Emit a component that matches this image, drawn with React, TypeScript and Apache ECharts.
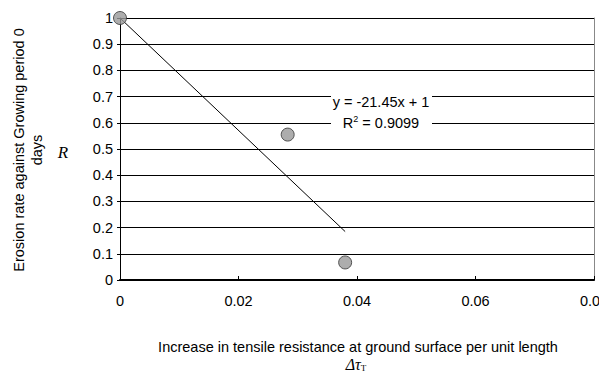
import React, { useEffect, useRef } from "react";
import * as echarts from "echarts";

const xValues = [0, 0.0283, 0.038];
const yValues = [1, 0.555, 0.067];
const slope = -21.45;
const intercept = 1;
const r2 = 0.9099;
const trendX = [0, 0.038];

export default function App() {
  const ref = useRef<HTMLDivElement>(null);
  useEffect(() => {
    const chart = echarts.init(ref.current!, null, { renderer: "svg" });
    const font = "'Liberation Sans', Arial, sans-serif";
    const serif = "'Liberation Serif', 'Times New Roman', serif";
    const fs = 14.5;
    chart.setOption({
      animation: false,
      backgroundColor: "#fff",
      grid: {
        left: 120,
        width: 474,
        top: 18,
        height: 262,
        containLabel: false,
        outerBoundsMode: "none",
        show: false,
      },
      xAxis: {
        type: "value",
        min: 0,
        max: 0.08,
        interval: 0.02,
        axisLine: { show: true, onZero: false, lineStyle: { color: "#000", width: 2 } },
        axisTick: { show: true, inside: true, length: 4, lineStyle: { color: "#000" } },
        axisLabel: { color: "#000", fontFamily: font, fontSize: fs, margin: 13, hideOverlap: false },
        splitLine: { show: false },
      },
      yAxis: [
        {
          type: "value",
          min: 0,
          max: 1,
          interval: 0.1,
          axisLine: { show: true, lineStyle: { color: "#000", width: 1 } },
          axisTick: { show: true, length: 3, lineStyle: { color: "#000" } },
          axisLabel: {
            color: "#000",
            fontFamily: font,
            fontSize: fs,
            margin: 7,
            formatter: (v: number) => String(Math.round(v * 10) / 10),
          },
          splitLine: { show: true, lineStyle: { color: "#000", width: 1 } },
        },
        {
          type: "value",
          position: "right",
          min: 0,
          max: 1,
          interval: 0.1,
          axisLine: { show: true, lineStyle: { color: "#888", width: 1 } },
          axisTick: { show: false },
          axisLabel: { show: false },
          splitLine: { show: false },
        },
      ],
      series: [
        {
          type: "line",
          data: trendX.map((x) => [x, slope * x + intercept]),
          symbol: "none",
          lineStyle: { color: "#000", width: 1 },
          z: 3,
        },
        {
          type: "scatter",
          data: xValues.map((x, i) => [x, yValues[i]]),
          symbol: "circle",
          symbolSize: 13,
          itemStyle: { color: "#999999", borderColor: "#333", borderWidth: 1 },
          z: 5,
        },
      ],
      graphic: [
        {
          type: "rect",
          shape: { x: 331, y: 90, width: 101, height: 44 },
          style: { fill: "#fff" },
          z: 10,
        },
        {
          type: "text",
          x: 381,
          y: 102,
          z: 11,
          style: {
            text: `y = ${slope}x + ${intercept}`,
            fontFamily: font,
            fontSize: fs,
            fill: "#000",
            align: "center",
            verticalAlign: "middle",
          },
        },
        {
          type: "text",
          x: 381,
          y: 123,
          z: 11,
          style: {
            text: `{n|R}{s|2}{n| = ${r2}}`,
            fontFamily: font,
            fontSize: fs,
            fill: "#000",
            align: "center",
            verticalAlign: "middle",
            rich: {
              n: { fontFamily: font, fontSize: fs, fill: "#000" },
              s: { fontFamily: font, fontSize: 9, fill: "#000", verticalAlign: "top", padding: [0, 0, 8, 0] },
            },
          },
        },
        {
          type: "text",
          x: 19,
          y: 150,
          rotation: Math.PI / 2,
          style: {
            text: "Erosion rate against Growing period 0",
            fontFamily: font,
            fontSize: fs,
            fill: "#000",
            align: "center",
            verticalAlign: "middle",
          },
        },
        {
          type: "text",
          x: 37,
          y: 150,
          rotation: Math.PI / 2,
          style: {
            text: "days",
            fontFamily: font,
            fontSize: fs,
            fill: "#000",
            align: "center",
            verticalAlign: "middle",
          },
        },
        {
          type: "text",
          x: 63,
          y: 152,
          style: {
            text: "R",
            fontFamily: serif,
            fontStyle: "italic",
            fontSize: 17,
            fill: "#000",
            align: "center",
            verticalAlign: "middle",
          },
        },
        {
          type: "text",
          x: 358,
          y: 347,
          style: {
            text: "Increase in tensile resistance at ground surface per unit length",
            fontFamily: font,
            fontSize: fs,
            fill: "#000",
            align: "center",
            verticalAlign: "middle",
          },
        },
        {
          type: "text",
          x: 356,
          y: 364,
          style: {
            text: "{a|Δτ}{b|T}",
            fontFamily: serif,
            fontStyle: "italic",
            fontSize: 16,
            fill: "#000",
            align: "center",
            verticalAlign: "middle",
            rich: {
              a: { fontFamily: serif, fontStyle: "italic", fontSize: 16, fill: "#000" },
              b: { fontFamily: serif, fontSize: 9, fill: "#000", verticalAlign: "bottom", padding: [8, 0, 0, 0] },
            },
          },
        },
      ],
    });
    return () => chart.dispose();
  }, []);
  return <div ref={ref} style={{ width: 599, height: 372, position: "absolute", left: 0, top: 0 }} />;
}
